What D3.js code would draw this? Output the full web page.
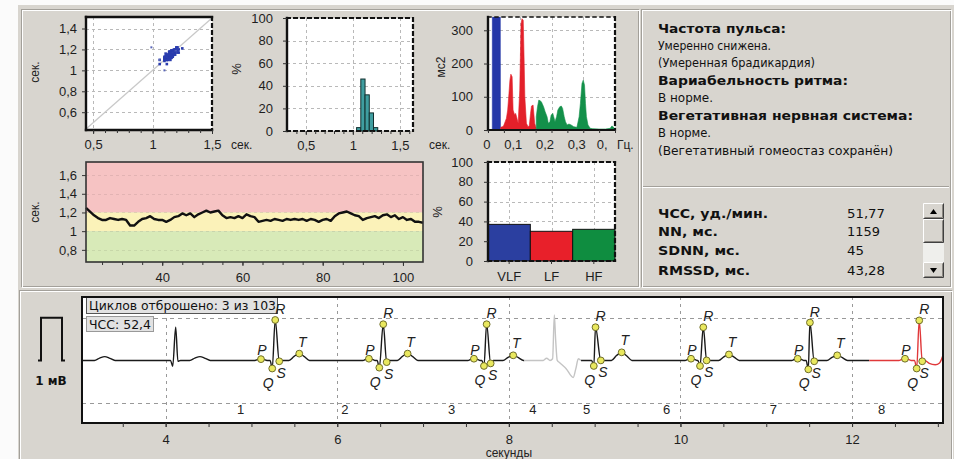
<!DOCTYPE html>
<html><head><meta charset="utf-8">
<script src="https://cdn.jsdelivr.net/npm/d3@7/dist/d3.min.js"></script>
<style>
html,body{margin:0;padding:0;background:#ffffff;overflow:hidden;}
svg{display:block;}
</style></head><body>
<svg id="c" width="954" height="459"></svg>
<script>
// ================= DATA =================
// Rhythmogram (RR intervals, s) vs time (s)
const rhythmStartSec = 21;
const rhythmValues = [1.25,1.21,1.17,1.14,1.12,1.12,1.14,1.13,1.12,1.13,1.12,1.06,1.06,1.10,1.13,1.14,1.16,1.13,1.12,1.12,1.10,1.12,1.15,1.16,1.19,1.17,1.19,1.15,1.18,1.20,1.22,1.20,1.21,1.22,1.17,1.14,1.15,1.14,1.16,1.14,1.18,1.16,1.15,1.10,1.11,1.12,1.11,1.13,1.12,1.11,1.13,1.12,1.13,1.12,1.13,1.11,1.13,1.12,1.10,1.12,1.13,1.11,1.16,1.19,1.20,1.21,1.19,1.17,1.16,1.12,1.14,1.15,1.16,1.14,1.17,1.18,1.15,1.17,1.13,1.15,1.12,1.13,1.10,1.10,1.09];
const rhythmZoneBreaks = [1.0, 1.2];
const rhythmYTicks = [0.8, 1, 1.2, 1.4, 1.6];
const rhythmXTicks = [40, 60, 80, 100];

// Poincaré extra (outlier) points
const scatterExtraX = [0.99, 1.10, 1.06];
const scatterExtraY = [1.22, 1.00, 1.10];
const scatterYTicks = [0.6, 0.8, 1, 1.2, 1.4];
const scatterXTicks = [0.5, 1, 1.5];

// Histogram of RR (%)
const histBinStart = [1.04, 1.085, 1.13, 1.175, 1.22];
const histBinWidth = 0.045;
const histValues = [3, 46, 32, 16, 3];
const histYTicks = [0, 20, 40, 60, 80, 100];
const histXTicks = [0.5, 1, 1.5];

// Spectrum (ms^2) by band
const vlfFreq = [0.0135, 0.014, 0.020, 0.026, 0.032, 0.038, 0.0392];
const vlfPower = [0, 900, 1400, 1600, 1300, 800, 0];
const lfFreq = [0.040,0.045,0.049,0.054,0.058,0.062,0.066,0.069,0.072,0.076,0.079,0.084,0.087,0.090,0.095,0.100,0.104,0.107,0.111,0.114,0.116,0.121,0.126,0.130,0.134,0.137,0.142,0.147,0.152];
const lfPower = [8,10,12,25,35,60,110,150,168,160,60,45,50,40,20,120,320,335,330,200,100,20,10,12,50,72,75,20,5];
const hfFreq = [0.152,0.156,0.160,0.164,0.168,0.175,0.180,0.186,0.190,0.195,0.199,0.204,0.207,0.211,0.216,0.220,0.226,0.231,0.235,0.240,0.244,0.249,0.255,0.262,0.270,0.280,0.287,0.291,0.296,0.300,0.304,0.307,0.310,0.315,0.322,0.330,0.350,0.370,0.385,0.390,0.394,0.398,0.400];
const hfPower = [40,70,90,88,85,70,55,40,20,25,45,50,40,25,40,60,70,72,65,40,25,15,18,15,10,8,40,80,140,150,135,80,40,15,5,4,3,3,5,12,10,5,3];
const specYTicks = [0, 100, 200, 300];
const specXTicks = [0, 0.1, 0.2, 0.3, 0.4];
const specXLabels = ["0", "0,1", "0,2", "0,3", "0,"];

// Band power percentages
const bandNames = ["VLF", "LF", "HF"];
const bandPercent = [37, 30, 32];
const bandYTicks = [0, 20, 40, 60, 80, 100];

// Text conclusions
const infoText = ["Частота пульса:", "Умеренно снижена.", "(Умеренная брадикардия)", "Вариабельность ритма:", "В норме.", "Вегетативная нервная система:", "В норме.", "(Вегетативный гомеостаз сохранён)"];
const infoBold = [true, false, false, true, false, true, false, false];

// Statistics table
const statNames = ["ЧСС, уд./мин.", "NN, мс.", "SDNN, мс.", "RMSSD, мс."];
const statValues = ["51,77", "1159", "45", "43,28"];

// ECG fiducial points (time s, amplitude mV)
const beatAnnotated = [false, true, true, true, true, true, true, true];
const beatP    = [null, 5.111, 6.369, 7.593, null, 10.123, 11.366, 12.617];
const beatPAmp = [0, 0.03, 0.04, 0.04, 0, 0.04, 0.04, 0.04];
const beatQ    = [4.082, 5.242, 6.490, 7.710, 8.990, 10.228, 11.490, 12.753];
const beatQAmp = [-0.14, -0.19, -0.17, -0.13, -0.13, -0.13, -0.21, -0.19];
const beatR    = [4.117, 5.277, 6.536, 7.741, 9.010, 10.266, 11.509, 12.783];
const beatRAmp = [0.78, 0.95, 0.85, 0.85, 0.78, 0.78, 0.89, 0.94];
const beatS    = [4.143, 5.324, 6.576, 7.788, 9.072, 10.305, 11.559, 12.818];
const beatSAmp = [-0.02, -0.02, -0.04, -0.07, 0.0, 0.0, -0.02, -0.02];
const beatT    = [4.40, 5.557, 6.820, 8.051, 9.315, 10.565, 11.827, null];
const beatTAmp = [0.09, 0.16, 0.16, 0.12, 0.19, 0.14, 0.12, null];
const leadingTWave = [3.29, 0.09];
const ectopicTrace = [[8.18,0],[8.40,0],[8.44,0.05],[8.48,0],[8.51,0.04],[8.53,1.07],[8.545,0.5],[8.564,0],[8.59,-0.05],[8.67,-0.2],[8.75,-0.4],[8.78,-0.2],[8.81,0.04],[8.84,0]];
const redTail = [[12.9,-0.07],[12.97,-0.1],[13.02,-0.06],[13.06,0.12]];
const ecgRedStart = 12.2;
const ecgDiscardStart = 8.18, ecgDiscardEnd = 8.84;
const ecgStart = 3.025, ecgEnd = 13.06;
const cycleLabels = ["1","2","3","4","5","6","7","8"];
const cycleLabelT = [4.874, 6.09, 7.333, 8.281, 8.907, 9.839, 11.082, 12.345];
const ecgXTicks = [4, 6, 8, 10, 12];
const ecgInfo1 = "Циклов отброшено: 3 из 103";
const ecgInfo2 = "ЧСС: 52,4";

// ================= DRAWING =================
const svg = d3.select("#c");
const FONT = "'Liberation Sans', Arial, sans-serif";
const fmt = d => String(d).replace(".", ",");
const BG = "#d8d5cf";

svg.append("rect").attr("width",954).attr("height",459).attr("fill","#fbfbfb");
svg.append("rect").attr("x",18).attr("y",5).attr("width",936).attr("height",454).attr("fill",BG);

function etched(x,y,w,h){
  svg.append("rect").attr("x",x+0.5).attr("y",y+0.5).attr("width",w).attr("height",h).attr("fill","none").attr("stroke","#a3a09a");
  svg.append("rect").attr("x",x+1.5).attr("y",y+1.5).attr("width",w).attr("height",h).attr("fill","none").attr("stroke","#ffffff");
}
etched(21,9,617,277);
etched(641,9,309,277);
etched(19,290,932,175);
svg.append("line").attr("x1",643).attr("x2",949).attr("y1",186.5).attr("y2",186.5).attr("stroke","#a3a09a");
svg.append("line").attr("x1",643).attr("x2",949).attr("y1",187.5).attr("y2",187.5).attr("stroke","#fff");

function frame(g,x0,y0,x1,y1,s){
  const sides={top:[x0,y0,x1,y0],bottom:[x0,y1,x1,y1],left:[x0,y0,x0,y1],right:[x1,y0,x1,y1]};
  for(const k in sides){const st=s[k];const [a,b,c,d]=sides[k];
    g.append("line").attr("x1",a).attr("y1",b).attr("x2",c).attr("y2",d)
      .attr("stroke",st.c||"#111").attr("stroke-width",st.w||2.2)
      .attr("stroke-dasharray",st.d||null).attr("stroke-linecap","square");}
}
const SOLID={w:2.4}, DASH={w:2.2,d:"3,4"};
function gridH(g,y,vals,x0,x1){vals.forEach(v=>g.append("line").attr("x1",x0).attr("x2",x1).attr("y1",Math.round(y(v))+0.5).attr("y2",Math.round(y(v))+0.5).attr("stroke","#b9b9b9").attr("stroke-dasharray","3,3"));}
function gridV(g,x,vals,y0,y1){vals.forEach(v=>g.append("line").attr("y1",y0).attr("y2",y1).attr("x1",Math.round(x(v))+0.5).attr("x2",Math.round(x(v))+0.5).attr("stroke","#b9b9b9").attr("stroke-dasharray","3,3"));}
function styleAxis(sel,size){
  sel.attr("font-family",FONT).attr("font-size",size||13);
  sel.select(".domain").remove();
  sel.selectAll("text").attr("fill","#1e1e1e");
  sel.selectAll("line").attr("stroke","#333");
  return sel;
}
function rotLabel(x,y,t,size){
  svg.append("text").attr("transform",`translate(${x},${y}) rotate(-90)`).attr("text-anchor","middle")
    .attr("dominant-baseline","central").attr("font-family",FONT).attr("font-size",size||12).attr("fill","#222").text(t);
}
function plainText(x,y,t,size,anchor){
  return svg.append("text").attr("x",x).attr("y",y).attr("text-anchor",anchor||"start").attr("font-family",FONT)
    .attr("font-size",size||13).attr("fill","#222").text(t);
}

// ---------- Scatter (Poincaré) ----------
{
  const x0=86,x1=212,y0=17,y1=130;
  const xS=d3.scaleLinear().domain([0.44,1.5]).range([x0,x1]);
  const yS=d3.scaleLinear().domain([0.43,1.51]).range([y1,y0]);
  const g=svg.append("g");
  g.append("rect").attr("x",x0).attr("y",y0).attr("width",x1-x0).attr("height",y1-y0).attr("fill","#fff");
  gridH(g,yS,scatterYTicks,x0,x1);
  gridV(g,xS,[0.5,1],y0,y1);
  g.append("line").attr("x1",xS(0.44)).attr("y1",yS(0.44)).attr("x2",xS(1.5)).attr("y2",yS(1.5)).attr("stroke","#c8c8c8").attr("stroke-width",1.2);
  const pairs=d3.range(rhythmValues.length-1).map(i=>[rhythmValues[i],rhythmValues[i+1]]);
  g.selectAll(".sp").data(pairs).join("rect").attr("x",d=>xS(d[0])-1.3).attr("y",d=>yS(d[1])-1.3).attr("width",2.6).attr("height",2.6).attr("fill","#2a3cae");
  g.selectAll(".sx").data(scatterExtraX).join("rect").attr("x",(d,i)=>xS(d)-1).attr("y",(d,i)=>yS(scatterExtraY[i])-1).attr("width",2).attr("height",2).attr("fill","#5a66b8");
  frame(g,x0,y0,x1,y1,{top:SOLID,left:SOLID,bottom:SOLID,right:DASH});
  styleAxis(svg.append("g").attr("transform",`translate(${x0},0)`).call(d3.axisLeft(yS).tickValues(scatterYTicks).tickFormat(fmt).tickSize(4).tickPadding(5)));
  styleAxis(svg.append("g").attr("transform",`translate(0,${y1})`).call(d3.axisBottom(xS).tickValues(d3.range(0.5,1.51,0.1)).tickFormat("").tickSize(3)));
  styleAxis(svg.append("g").attr("transform",`translate(0,${y1})`).call(d3.axisBottom(xS).tickValues(scatterXTicks).tickFormat(fmt).tickSize(4).tickPadding(6)));
  rotLabel(35,72,"сек.",12);
  plainText(231,149,"сек.",12);
}

// ---------- Histogram ----------
{
  const x0=287,x1=413,y0=18,y1=131;
  const xH=d3.scaleLinear().domain([0.3,1.64]).range([x0,x1]);
  const yH=d3.scaleLinear().domain([0,100]).range([y1,y0]);
  const g=svg.append("g");
  g.append("rect").attr("x",x0).attr("y",y0).attr("width",x1-x0).attr("height",y1-y0).attr("fill","#fff");
  gridH(g,yH,[20,40,60,80],x0,x1);
  gridV(g,xH,histXTicks,y0,y1);
  g.selectAll(".hb").data(histValues).join("rect")
    .attr("x",(d,i)=>xH(histBinStart[i])).attr("width",(d,i)=>xH(histBinStart[i]+histBinWidth)-xH(histBinStart[i]))
    .attr("y",d=>yH(d)).attr("height",d=>yH(0)-yH(d))
    .attr("fill","#3f9ea0").attr("stroke","#12302f").attr("stroke-width",1);
  frame(g,x0,y0,x1,y1,{top:DASH,left:SOLID,bottom:DASH,right:DASH});
  styleAxis(svg.append("g").attr("transform",`translate(${x0},0)`).call(d3.axisLeft(yH).tickValues(histYTicks).tickSize(4).tickPadding(10)));
  styleAxis(svg.append("g").attr("transform",`translate(0,${y1})`).call(d3.axisBottom(xH).tickValues(d3.range(0.4,1.61,0.1)).tickFormat("").tickSize(3)));
  styleAxis(svg.append("g").attr("transform",`translate(0,${y1})`).call(d3.axisBottom(xH).tickValues(histXTicks).tickFormat(fmt).tickSize(4).tickPadding(6)));
  rotLabel(236,69,"%",13);
  plainText(429,149,"сек.",12);
}

// ---------- Spectrum ----------
{
  const x0=488,x1=615,y0=17,y1=130;
  const xF=d3.scaleLinear().domain([0,0.4]).range([x0,x1]);
  const yF=d3.scaleLinear().domain([0,340]).range([y1,y0]);
  const g=svg.append("g");
  g.append("rect").attr("x",x0).attr("y",y0).attr("width",x1-x0).attr("height",y1-y0).attr("fill","#fff");
  svg.append("clipPath").attr("id","specClip").append("rect").attr("x",x0).attr("y",y0).attr("width",x1-x0).attr("height",y1-y0);
  gridH(g,yF,[100,200,300],x0,x1);
  gridV(g,xF,[0.1,0.2,0.3],y0,y1);
  const area=d3.area().x(d=>xF(d[0])).y0(yF(0)).y1(d=>yF(d[1]));
  const gc=g.append("g").attr("clip-path","url(#specClip)");
  [[vlfFreq,vlfPower,"#2537a8"],[lfFreq,lfPower,"#e3202a"],[hfFreq,hfPower,"#13904a"]].forEach(([f,p,c])=>{
    gc.append("path").datum(f.map((v,i)=>[v,p[i]])).attr("d",area).attr("fill",c).attr("stroke",c).attr("stroke-width",0.6);
  });
  frame(g,x0,y0,x1,y1,{top:{w:1.5,d:"3,4"},left:SOLID,bottom:{w:2},right:DASH});
  styleAxis(svg.append("g").attr("transform",`translate(${x0},0)`).call(d3.axisLeft(yF).tickValues(specYTicks).tickSize(4).tickPadding(11)));
  styleAxis(svg.append("g").attr("transform",`translate(0,${y1})`).call(d3.axisBottom(xF).tickValues(d3.range(0,0.41,0.05)).tickFormat("").tickSize(3)));
  const lab=svg.append("g").attr("transform",`translate(0,${y1})`).call(d3.axisBottom(xF).tickValues(specXTicks).tickFormat((d,i)=>specXLabels[i]).tickSize(0).tickPadding(10));
  styleAxis(lab);
  lab.selectAll("text").attr("text-anchor","end").attr("dx",(d,i)=>i===4?-8:2);
  plainText(617,149,"Гц.",12);
  rotLabel(441,67,"мс2",12);
}

// ---------- Rhythmogram ----------
{
  const x0=86,x1=423,y0=162,y1=262;
  const xR=d3.scaleLinear().domain([21,105]).range([x0,x1]);
  const yR=d3.scaleLinear().domain([0.67,1.74]).range([y1,y0]);
  const g=svg.append("g");
  g.append("rect").attr("x",x0).attr("y",y0).attr("width",x1-x0).attr("height",yR(rhythmZoneBreaks[1])-y0).attr("fill","#f6c3c3");
  g.append("rect").attr("x",x0).attr("y",yR(rhythmZoneBreaks[1])).attr("width",x1-x0).attr("height",yR(rhythmZoneBreaks[0])-yR(rhythmZoneBreaks[1])).attr("fill","#fbf2b9");
  g.append("rect").attr("x",x0).attr("y",yR(rhythmZoneBreaks[0])).attr("width",x1-x0).attr("height",y1-yR(rhythmZoneBreaks[0])).attr("fill","#d8eab8");
  rhythmYTicks.forEach(v=>g.append("line").attr("x1",x0).attr("x2",x1).attr("y1",Math.round(yR(v))+0.5).attr("y2",Math.round(yR(v))+0.5).attr("stroke","#000").attr("stroke-opacity",0.08).attr("stroke-dasharray","3,3"));
  const line=d3.line().x((d,i)=>xR(rhythmStartSec+i)).y(d=>yR(d));
  g.append("path").datum(rhythmValues).attr("d",line).attr("fill","none").attr("stroke","#111").attr("stroke-width",2.4).attr("stroke-linejoin","round");
  g.append("rect").attr("x",x0).attr("y",y0).attr("width",x1-x0).attr("height",y1-y0).attr("fill","none").attr("stroke","#333").attr("stroke-width",1.6);
  styleAxis(svg.append("g").attr("transform",`translate(${x0},0)`).call(d3.axisLeft(yR).tickValues(rhythmYTicks).tickFormat(fmt).tickSize(4).tickPadding(5)));
  styleAxis(svg.append("g").attr("transform",`translate(0,${y1})`).call(d3.axisBottom(xR).tickValues(d3.range(25,105,5)).tickFormat("").tickSize(3)));
  styleAxis(svg.append("g").attr("transform",`translate(0,${y1})`).call(d3.axisBottom(xR).tickValues(rhythmXTicks).tickSize(4).tickPadding(7)));
  rotLabel(35,212,"сек.",12);
}

// ---------- Band bars ----------
{
  const x0=488,x1=615,y0=162,y1=261;
  const xB=d3.scaleBand().domain(bandNames).range([x0,x1]).padding(0);
  const yB=d3.scaleLinear().domain([0,100]).range([y1,y0]);
  const g=svg.append("g");
  g.append("rect").attr("x",x0).attr("y",y0).attr("width",x1-x0).attr("height",y1-y0).attr("fill","#fff");
  gridH(g,yB,[20,40,60,80],x0,x1);
  bandNames.forEach(n=>g.append("line").attr("x1",Math.round(xB(n)+xB.bandwidth()/2)+0.5).attr("x2",Math.round(xB(n)+xB.bandwidth()/2)+0.5).attr("y1",y0).attr("y2",y1).attr("stroke","#b9b9b9").attr("stroke-dasharray","3,3"));
  const cols=["#2b3fa0","#e8202a","#0f8d40"];
  g.selectAll(".bb").data(bandPercent).join("rect").attr("x",(d,i)=>xB(bandNames[i])).attr("width",xB.bandwidth())
    .attr("y",d=>yB(d)).attr("height",d=>yB(0)-yB(d)).attr("fill",(d,i)=>cols[i]).attr("stroke","#111").attr("stroke-width",1);
  frame(g,x0,y0,x1,y1,{top:DASH,left:SOLID,bottom:DASH,right:DASH});
  styleAxis(svg.append("g").attr("transform",`translate(${x0},0)`).call(d3.axisLeft(yB).tickValues(bandYTicks).tickSize(4).tickPadding(11)));
  styleAxis(svg.append("g").attr("transform",`translate(0,${y1})`).call(d3.axisBottom(xB).tickSize(3).tickPadding(8)));
  rotLabel(437.5,212,"%",13);
}

// ---------- Info text ----------
{
  const widths=[128,113,157,190,55,255,53,235];
  const ys=[28.3,45,62.7,80,97.3,115,132.7,150.7];
  infoText.forEach((t,i)=>{
    svg.append("text").attr("x",658).attr("y",ys[i]+4.5).attr("font-family","'DejaVu Sans', sans-serif")
      .attr("font-size",12).attr("font-weight",infoBold[i]?"bold":"normal").attr("fill","#111")
      .attr("textLength",widths[i]).attr("lengthAdjust","spacingAndGlyphs").text(t);
  });
  const lw=[110,60,82,92], vw=[38,33,17,38];
  const ry=[213.3,231.7,250.7,270];
  statNames.forEach((t,i)=>{
    svg.append("text").attr("x",658).attr("y",ry[i]+4.5).attr("font-family","'DejaVu Sans', sans-serif").attr("font-size",12)
      .attr("font-weight","bold").attr("fill","#111").attr("textLength",lw[i]).attr("lengthAdjust","spacingAndGlyphs").text(t);
    svg.append("text").attr("x",847).attr("y",ry[i]+4.5).attr("font-family","'DejaVu Sans', sans-serif").attr("font-size",12)
      .attr("fill","#111").attr("textLength",vw[i]).attr("lengthAdjust","spacingAndGlyphs").text(statValues[i]);
  });
  // scrollbar
  const sx=923, sw=21;
  svg.append("rect").attr("x",sx).attr("y",243).attr("width",sw).attr("height",19).attr("fill","#efefec");
  function btn(y,h){
    svg.append("rect").attr("x",sx).attr("y",y).attr("width",sw).attr("height",h).attr("fill",BG);
    svg.append("path").attr("d",`M${sx+0.5},${y+h-0.5}V${y+0.5}H${sx+sw-0.5}`).attr("fill","none").attr("stroke","#fff");
    svg.append("path").attr("d",`M${sx+0.5},${y+h-0.5}H${sx+sw-0.5}V${y+0.5}`).attr("fill","none").attr("stroke","#404040");
    svg.append("path").attr("d",`M${sx+1.5},${y+h-1.5}H${sx+sw-1.5}V${y+1.5}`).attr("fill","none").attr("stroke","#8a8781");
  }
  btn(203,16); btn(219,24); btn(262,16);
  svg.append("path").attr("d",`M${sx+7},${214}L${sx+14},${214}L${sx+10.5},${209}Z`).attr("fill","#000");
  svg.append("path").attr("d",`M${sx+7},${268}L${sx+14},${268}L${sx+10.5},${273}Z`).attr("fill","#000");
}

// ---------- ECG ----------
{
  const x0=82,x1=943,y0=297,y1=423;
  const xE=d3.scaleLinear().domain([ecgStart,ecgEnd]).range([x0,x1]);
  const yE=d3.scaleLinear().domain([-1.47,1.49]).range([y1,y0]);
  const g=svg.append("g");
  g.append("rect").attr("x",x0).attr("y",y0).attr("width",x1-x0).attr("height",y1-y0).attr("fill","#fff");
  [1,-1].forEach(v=>g.append("line").attr("x1",x0).attr("x2",x1).attr("y1",Math.round(yE(v))+0.5).attr("y2",Math.round(yE(v))+0.5).attr("stroke","#999").attr("stroke-dasharray","4,4"));
  ecgXTicks.forEach(v=>g.append("line").attr("y1",y0).attr("y2",y1).attr("x1",Math.round(xE(v))+0.5).attr("x2",Math.round(xE(v))+0.5).attr("stroke","#999").attr("stroke-dasharray","3,4"));

  // build trace vertices from fiducials
  let pts=[[ecgStart,0]];
  const lt=leadingTWave;
  pts.push([lt[0]-0.12,0],[lt[0]-0.06,lt[1]*0.6],[lt[0],lt[1]],[lt[0]+0.06,lt[1]*0.55],[lt[0]+0.12,0]);
  beatR.forEach((r,i)=>{
    if(beatP[i]!=null){const p=beatP[i],a=beatPAmp[i];pts.push([p-0.07,0],[p-0.035,a*0.7],[p,a],[p+0.03,a*0.8],[p+0.07,0]);}
    pts.push([beatQ[i]-0.025,0],[beatQ[i],beatQAmp[i]],[r,beatRAmp[i]],[beatS[i],beatSAmp[i]],[beatS[i]+0.03,0]);
    if(beatT[i]!=null){const t=beatT[i],a=beatTAmp[i];pts.push([t-0.12,0],[t-0.06,a*0.6],[t,a],[t+0.06,a*0.55],[t+0.12,0]);}
  });
  pts.sort((a,b)=>a[0]-b[0]);
  const seg1=pts.filter(p=>p[0]<ecgDiscardStart).concat([[ecgDiscardStart,0]]);
  const seg2=[[ecgDiscardEnd,0]].concat(pts.filter(p=>p[0]>ecgDiscardEnd&&p[0]<ecgRedStart)).concat([[ecgRedStart,0]]);
  const seg3=[[ecgRedStart,0]].concat(pts.filter(p=>p[0]>ecgRedStart)).concat(redTail);
  const ln=d3.line().x(d=>xE(d[0])).y(d=>yE(d[1])).curve(d3.curveMonotoneX);
  g.append("path").attr("d",ln(seg1)).attr("fill","none").attr("stroke","#1a1a1a").attr("stroke-width",1.4);
  g.append("path").attr("d",ln(seg2)).attr("fill","none").attr("stroke","#1a1a1a").attr("stroke-width",1.4);
  g.append("path").attr("d",ln(ectopicTrace)).attr("fill","none").attr("stroke","#c4c4c4").attr("stroke-width",1.4);
  g.append("path").attr("d",ln(seg3)).attr("fill","none").attr("stroke","#e0383a").attr("stroke-width",1.4);

  // cycle numbers
  cycleLabels.forEach((c,i)=>g.append("text").attr("x",xE(cycleLabelT[i])).attr("y",yE(-1)+11).attr("text-anchor","middle")
     .attr("font-family",FONT).attr("font-size",13).attr("fill","#222").text(c));

  // markers
  const mk=[];
  beatR.forEach((r,i)=>{ if(!beatAnnotated[i]) return;
    if(beatP[i]!=null) mk.push({t:beatP[i],v:beatPAmp[i],l:"P",dx:1,dy:-9});
    mk.push({t:beatQ[i],v:beatQAmp[i],l:"Q",dx:-4,dy:14});
    mk.push({t:r,v:beatRAmp[i],l:"R",dx:5,dy:-11});
    mk.push({t:beatS[i],v:beatSAmp[i],l:"S",dx:2,dy:12});
    if(beatT[i]!=null) mk.push({t:beatT[i],v:beatTAmp[i],l:"T",dx:3,dy:-12});
  });
  g.selectAll(".mk").data(mk).join("circle").attr("cx",d=>xE(d.t)).attr("cy",d=>yE(d.v)).attr("r",3.4)
    .attr("fill","#e9e85e").attr("stroke","#6f6d2a").attr("stroke-width",1);

  // info boxes
  g.append("rect").attr("x",86.5).attr("y",297.5).attr("width",191).attr("height",16).attr("fill","#e2e2e2").attr("stroke","#555");
  g.append("text").attr("x",89).attr("y",310).attr("font-family","'DejaVu Sans', sans-serif").attr("font-size",12).attr("fill","#111")
    .attr("textLength",187).attr("lengthAdjust","spacingAndGlyphs").text(ecgInfo1);
  g.append("rect").attr("x",86.5).attr("y",316.5).attr("width",67).attr("height",15).attr("fill","#e2e2e2").attr("stroke","#999");
  g.append("text").attr("x",89).attr("y",328.5).attr("font-family","'DejaVu Sans', sans-serif").attr("font-size",12).attr("fill","#111")
    .attr("textLength",62).attr("lengthAdjust","spacingAndGlyphs").text(ecgInfo2);

  g.selectAll(".ml").data(mk).join("text").attr("x",d=>xE(d.t)+d.dx).attr("y",d=>yE(d.v)+d.dy+5).attr("text-anchor","middle")
    .attr("font-family",FONT).attr("font-style","italic").attr("font-size",14).attr("fill","#222").text(d=>d.l);

  g.append("rect").attr("x",x0).attr("y",y0).attr("width",x1-x0).attr("height",y1-y0).attr("fill","none").attr("stroke","#111").attr("stroke-width",2);
  styleAxis(svg.append("g").attr("transform",`translate(0,${y1})`).call(d3.axisBottom(xE).tickValues(d3.range(3.5,13.01,0.5)).tickFormat("").tickSize(4)));
  styleAxis(svg.append("g").attr("transform",`translate(0,${y1})`).call(d3.axisBottom(xE).tickValues(ecgXTicks).tickSize(4).tickPadding(8)));
  plainText(xE(8),457,"секунды",12,"middle");

  // calibration pulse (1 mV)
  const cal=[[38,0],[41,0],[41,1],[62,1],[62,0],[65,0]];
  svg.append("path").attr("d",d3.line().x(d=>d[0]).y(d=>yE(d[1]))(cal)).attr("fill","none").attr("stroke","#111").attr("stroke-width",2);
  svg.append("text").attr("x",51).attr("y",385).attr("text-anchor","middle").attr("font-family","'DejaVu Sans', sans-serif")
    .attr("font-weight","bold").attr("font-size",12).attr("fill","#111").text("1 мВ");
}
</script>
</body></html>
